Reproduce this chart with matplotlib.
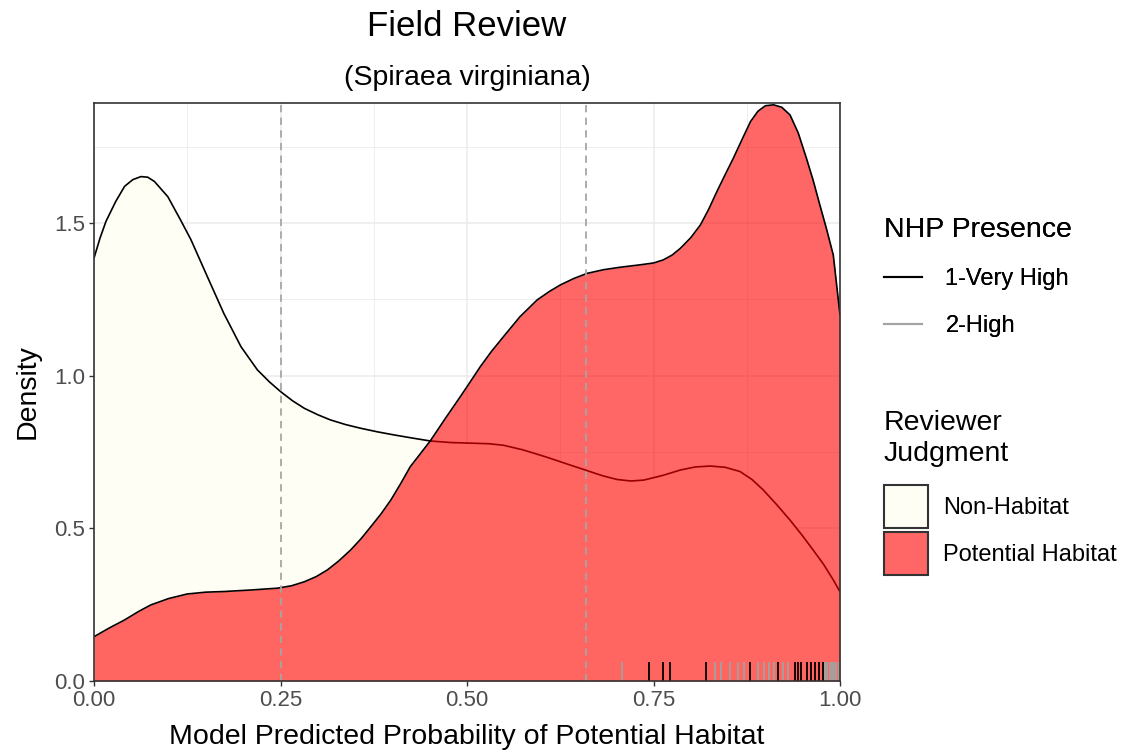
import matplotlib
matplotlib.use("Agg")
import matplotlib.pyplot as plt
from matplotlib.lines import Line2D
from matplotlib.patches import Patch
import numpy as np

plt.rcParams['font.family'] = ['Liberation Sans', 'DejaVu Sans']

# ---- data ----
non_x = [0.0, 0.008, 0.016, 0.029, 0.041, 0.052, 0.063, 0.072, 0.081, 0.099, 0.116, 0.130,
         0.152, 0.174, 0.197, 0.219, 0.235, 0.250, 0.266, 0.282, 0.300, 0.317, 0.337, 0.357,
         0.380, 0.402, 0.426, 0.451, 0.478, 0.505, 0.530, 0.549, 0.575, 0.607, 0.635, 0.661,
         0.682, 0.701, 0.720, 0.737, 0.762, 0.786, 0.806, 0.826, 0.846, 0.866, 0.882, 0.897,
         0.915, 0.933, 0.949, 0.964, 0.978, 0.991, 1.0]
non_y = [1.385, 1.450, 1.505, 1.570, 1.620, 1.642, 1.652, 1.650, 1.636, 1.586, 1.510, 1.445,
         1.324, 1.204, 1.095, 1.019, 0.980, 0.948, 0.918, 0.893, 0.872, 0.855, 0.840, 0.828,
         0.816, 0.806, 0.796, 0.786, 0.781, 0.779, 0.777, 0.772, 0.757, 0.733, 0.710, 0.689,
         0.672, 0.660, 0.655, 0.658, 0.673, 0.691, 0.701, 0.704, 0.700, 0.686, 0.660, 0.626,
         0.578, 0.527, 0.478, 0.429, 0.382, 0.331, 0.292]

pot_x = [0.0, 0.020, 0.041, 0.060, 0.076, 0.100, 0.125, 0.150, 0.174, 0.210, 0.246, 0.265,
         0.282, 0.298, 0.313, 0.328, 0.344, 0.358, 0.371, 0.385, 0.398, 0.411, 0.424, 0.438,
         0.451, 0.471, 0.491, 0.505, 0.518, 0.533, 0.549, 0.571, 0.594, 0.610, 0.625, 0.643,
         0.661, 0.683, 0.705, 0.732, 0.750, 0.763, 0.775, 0.786, 0.800, 0.813, 0.824, 0.835,
         0.846, 0.857, 0.869, 0.880, 0.890, 0.900, 0.911, 0.922, 0.933, 0.944, 0.955, 0.964,
         0.973, 0.982, 0.991, 1.0]
pot_y = [0.145, 0.173, 0.200, 0.228, 0.249, 0.270, 0.285, 0.291, 0.293, 0.298, 0.304, 0.312,
         0.325, 0.342, 0.364, 0.393, 0.429, 0.466, 0.505, 0.548, 0.593, 0.646, 0.702, 0.746,
         0.787, 0.860, 0.931, 0.982, 1.030, 1.080, 1.128, 1.193, 1.248, 1.275, 1.297, 1.318,
         1.335, 1.347, 1.355, 1.363, 1.369, 1.379, 1.395, 1.417, 1.452, 1.494, 1.545, 1.603,
         1.658, 1.712, 1.775, 1.832, 1.866, 1.884, 1.887, 1.879, 1.854, 1.795, 1.712, 1.640,
         1.559, 1.480, 1.395, 1.199]

rug_very_high = [0.744, 0.763, 0.772, 0.821, 0.880, 0.917, 0.940, 0.944, 0.948,
                 0.956, 0.961, 0.967, 0.972, 0.977]
rug_high = [0.708, 0.833, 0.840, 0.853, 0.863, 0.871, 0.890, 0.898, 0.905, 0.912,
            0.924, 0.930, 0.980, 0.983, 0.986, 0.989, 0.992, 0.995, 0.998]

thresholds = [0.25, 0.66]

x_ticks = [0.0, 0.25, 0.5, 0.75, 1.0]
x_ticklabels = ["0.00", "0.25", "0.50", "0.75", "1.00"]
y_ticks = [0.0, 0.5, 1.0, 1.5]
y_ticklabels = ["0.0", "0.5", "1.0", "1.5"]

judgments = ["Non-Habitat", "Potential Habitat"]
presence = ["1-Very High", "2-High"]

# ---- styling ----
cream = "#FFFEF4"
red = "#FF0000"
grey_rug = "#A3A3A3"

fig = plt.figure(figsize=(11.34, 7.55), dpi=100)
ax = fig.add_axes([94 / 1134, 1 - 681 / 755, (840 - 94) / 1134, (681 - 103) / 755])

ax.set_xlim(0, 1)
ax.set_ylim(0, 1.893)

ax.set_xticks(x_ticks)
ax.set_xticklabels(x_ticklabels)
ax.set_yticks(y_ticks)
ax.set_yticklabels(y_ticklabels)
ax.set_xticks([0.125, 0.375, 0.625, 0.875], minor=True)
ax.set_yticks([0.25, 0.75, 1.25, 1.75], minor=True)
ax.grid(True, which='major', color='#EBEBEB', lw=1.1, zorder=0)
ax.grid(True, which='minor', color='#EBEBEB', lw=0.6, zorder=0)
ax.set_axisbelow(True)
ax.tick_params(which='minor', length=0)
ax.tick_params(which='major', length=3.5, width=1, color='#333333',
               labelsize=16, labelcolor='#4D4D4D', pad=3)

# densities
ax.fill_between(non_x, 0, non_y, color=cream, lw=0, zorder=1)
ax.plot(non_x, non_y, color='black', lw=1.2, zorder=2)
ax.fill_between(pot_x, 0, pot_y, color=red, alpha=0.6, lw=0, zorder=3)
ax.plot(pot_x, pot_y, color='black', lw=1.2, zorder=4)

# thresholds
for t in thresholds:
    ax.axvline(t, color='#A6A6A6', lw=1.3, ls=(0, (4, 3)), zorder=5)

# rugs
for xv in rug_high:
    ax.plot([xv, xv], [0, 0.033], transform=ax.get_xaxis_transform(),
            color=grey_rug, lw=1.3, zorder=6, solid_capstyle='butt')
for xv in rug_very_high:
    ax.plot([xv, xv], [0, 0.033], transform=ax.get_xaxis_transform(),
            color='black', lw=1.3, zorder=7, solid_capstyle='butt')

for s in ax.spines.values():
    s.set_color('#333333')
    s.set_linewidth(1.2)
    s.set_zorder(10)

ax.set_xlabel("Model Predicted Probability of Potential Habitat", fontsize=20.5)
ax.xaxis.set_label_coords(0.5, -0.075)
ax.set_ylabel("Density", fontsize=20.5)
ax.yaxis.set_label_coords(-0.072, 0.5)

fig.text(467 / 1134, 1 - 26 / 755, "Field Review", fontsize=25, ha='center', va='center')
fig.text(467 / 1134, 1 - 78 / 755, "(Spiraea virginiana)", fontsize=20.5, ha='center', va='center')

# legends
h1 = [Line2D([], [], color='black', lw=1.5), Line2D([], [], color=grey_rug, lw=1.5)]
leg1 = fig.legend(h1, presence, title="NHP Presence", loc='upper left',
                  bbox_to_anchor=(884 / 1134, 1 - 217 / 755), frameon=False,
                  fontsize=17, title_fontsize=20.5, handlelength=1.6,
                  handletextpad=1.0, labelspacing=1.05, borderpad=0,
                  borderaxespad=0, alignment='left')
leg1._legend_box.sep = 18
fig.add_artist(leg1)

h2 = [Patch(facecolor=cream, edgecolor='#333333', lw=1.5),
      Patch(facecolor='#FF6666', edgecolor='#333333', lw=1.5)]
leg2 = fig.legend(h2, judgments, title="Reviewer\nJudgment", loc='upper left',
                  bbox_to_anchor=(884 / 1134, 1 - 410 / 755), frameon=False,
                  fontsize=17, title_fontsize=20.5, handlelength=1.85,
                  handleheight=2.4, handletextpad=0.65, labelspacing=0.2,
                  borderpad=0, borderaxespad=0, alignment='left')
leg2.get_title().set_linespacing(1.25)
leg2._legend_box.sep = 13

fig.savefig("out.png", dpi=100)
